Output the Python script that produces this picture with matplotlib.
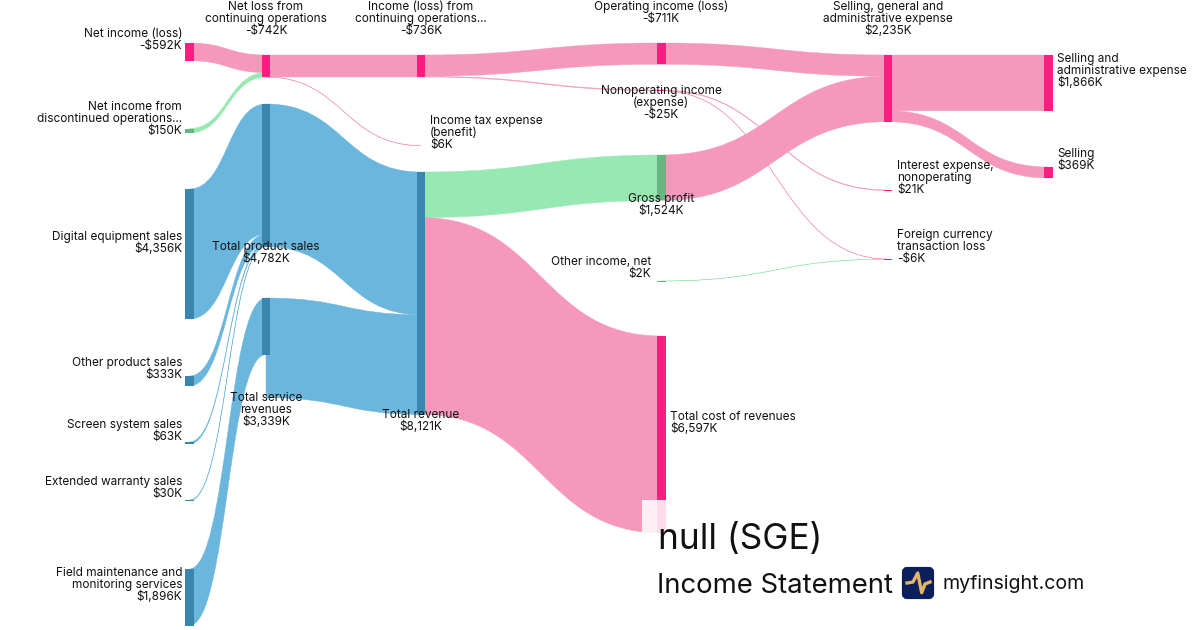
"""Income statement sankey for SGE, drawn as filled bezier bands under node bars."""
import matplotlib
matplotlib.use("Agg")
import matplotlib.pyplot as plt
from matplotlib.patches import PathPatch, Rectangle, FancyBboxPatch
from matplotlib.path import Path

plt.rcParams["font.family"] = ["Inter", "DejaVu Sans"]

DPI = 100
PX_PER_K = 0.02985
NODE_W = 8.6
TEXT = "#111111"

COLORS = {
    "pink": ("#FA1E80", "#F598BC"),
    "blue": ("#3A86AF", "#6AB6DC"),
    "green": ("#68B581", "#98E8B3"),
}

# nodes
node_names = [
    "Net income (loss)", "Net income from\ndiscontinued operations...",
    "Digital equipment sales", "Other product sales", "Screen system sales",
    "Extended warranty sales", "Field maintenance and\nmonitoring services",
    "Net loss from\ncontinuing operations", "Total product sales",
    "Total service\nrevenues",
    "Income (loss) from\ncontinuing operations...",
    "Income tax expense\n(benefit)", "Total revenue",
    "Operating income (loss)", "Nonoperating income\n(expense)", "Gross profit",
    "Other income, net", "Total cost of revenues",
    "Selling, general and\nadministrative expense",
    "Interest expense,\nnonoperating", "Foreign currency\ntransaction loss",
    "Selling and\nadministrative expense", "Selling",
]
node_values = [-592, 150, 4356, 333, 63, 30, 1896, -742, 4782, 3339, -736, 6,
               8121, -711, -25, 1524, 2, 6597, 2235, 21, -6, 1866, 369]
node_colors = ["pink", "green", "blue", "blue", "blue", "blue", "blue", "pink",
               "blue", "blue", "pink", "pink", "blue", "pink", "pink", "green",
               "green", "pink", "pink", "pink", "pink", "pink", "pink"]

# layout, in pixels of the 1200x630 canvas
column_x = [185, 261.7, 416.7, 657, 883.7, 1044]
node_column = [0, 0, 0, 0, 0, 0, 0, 1, 1, 1, 2, 2, 2, 3, 3, 3, 3, 3, 4, 4, 4, 5, 5]
node_top = [43, 128.5, 189, 376, 442, 500, 569, 55, 104, 298, 55, 145.5, 172,
            43, 90, 155, 281, 336, 55, 190, 259, 55, 167]
label_x = [182, 182, 182, 182, 182, 182, 182, 266, 266, 266, 421, 430, 421,
           661, 661, 661, 651, 670, 888, 897, 897, 1057, 1057]
label_y = [33, 106, 236, 362, 424, 481, 572, 6, 246, 397, 6, 120, 414, 6, 90,
           198, 261, 416, 6, 165, 234, 58, 153]
label_ha = ["right"] * 7 + ["center"] * 3 + ["center", "left", "center"] + \
           ["center"] * 3 + ["right", "left", "center", "left", "left", "left", "left"]

# links, as node indices
link_source = [0, 1, 7, 7, 2, 3, 4, 5, 6, 8, 9, 10, 10, 12, 12, 13, 15, 18, 18, 14, 14, 16]
link_target = [7, 7, 10, 11, 8, 8, 8, 8, 9, 12, 12, 13, 14, 15, 17, 18, 18, 21, 22, 19, 20, 20]
link_values = [592, 150, 736, 6, 4356, 333, 63, 30, 1896, 4782, 3339, 711, 25,
               1524, 6597, 711, 1524, 1866, 369, 21, 6, 2]
link_colors = ["pink", "green", "pink", "pink", "blue", "blue", "blue", "blue", "blue",
               "blue", "blue", "pink", "pink", "green", "pink", "pink", "pink", "pink",
               "pink", "pink", "pink", "green"]


def money(v):
    return f"-${abs(v):,}K" if v < 0 else f"${v:,}K"


fig = plt.figure(figsize=(12, 6.3), dpi=DPI)
ax = fig.add_axes([0, 0, 1, 1])
ax.set_xlim(0, 1200)
ax.set_ylim(630, 0)
ax.axis("off")

out_y = list(node_top)
in_y = list(node_top)
in_sum = [0] * len(node_names)
for src, dst, val, col in zip(link_source, link_target, link_values, link_colors):
    in_sum[dst] += val
    h = val * PX_PER_K
    x0 = column_x[node_column[src]] + NODE_W / 2
    x1 = column_x[node_column[dst]] + NODE_W / 2
    y0 = out_y[src]
    y1 = in_y[dst]
    out_y[src] += h
    in_y[dst] += h
    xm = (x0 + x1) / 2
    verts = [(x0, y0), (xm, y0), (xm, y1), (x1, y1), (x1, y1 + h),
             (xm, y1 + h), (xm, y0 + h), (x0, y0 + h), (x0, y0)]
    codes = [Path.MOVETO, Path.CURVE4, Path.CURVE4, Path.CURVE4, Path.LINETO,
             Path.CURVE4, Path.CURVE4, Path.CURVE4, Path.CLOSEPOLY]
    # the thin edge keeps the tiny flows visible, as in the reference
    ax.add_patch(PathPatch(Path(verts, codes), facecolor=COLORS[col][1],
                           edgecolor=COLORS[col][1], linewidth=0.3, zorder=2))

for i, name in enumerate(node_names):
    # a node is as tall as what flows in, or its own value at the left edge
    h = (in_sum[i] or abs(node_values[i])) * PX_PER_K
    ax.add_patch(Rectangle((column_x[node_column[i]], node_top[i]), NODE_W, max(h, 0.8),
                           facecolor=COLORS[node_colors[i]][0], edgecolor="none", zorder=3))
    lines = name.split("\n") + [money(node_values[i])]
    for k, line in enumerate(lines):
        ax.text(label_x[i], label_y[i] + 12 * k + 0.7, line, ha=label_ha[i], va="center",
                fontsize=8.5, color=TEXT, zorder=5)

# pale box left behind under the title
ax.add_patch(Rectangle((642, 500), 24, 34, facecolor="white", edgecolor="none",
                       alpha=0.85, zorder=4))

ax.text(658, 540, "null (SGE)", fontsize=25.3, color=TEXT, va="center", ha="left", zorder=6)
ax.text(657, 586, "Income Statement", fontsize=19.8, color=TEXT, va="center", ha="left", zorder=6)
ax.text(943, 584, "myfinsight.com", fontsize=14.1, color=TEXT, va="center", ha="left", zorder=6)

ax.add_patch(FancyBboxPatch((904, 569), 28, 28, boxstyle="round,pad=0,rounding_size=3",
                            mutation_aspect=1, facecolor="#0A1F5C", edgecolor="#0A1F5C",
                            linewidth=3, zorder=6))
ax.plot([907, 913, 917.7, 921.7, 925, 930], [583, 582, 573, 592.7, 584, 582], color="#E4B566",
        linewidth=2.4, solid_joinstyle="round", zorder=7)

fig.savefig("out.png", dpi=DPI)
